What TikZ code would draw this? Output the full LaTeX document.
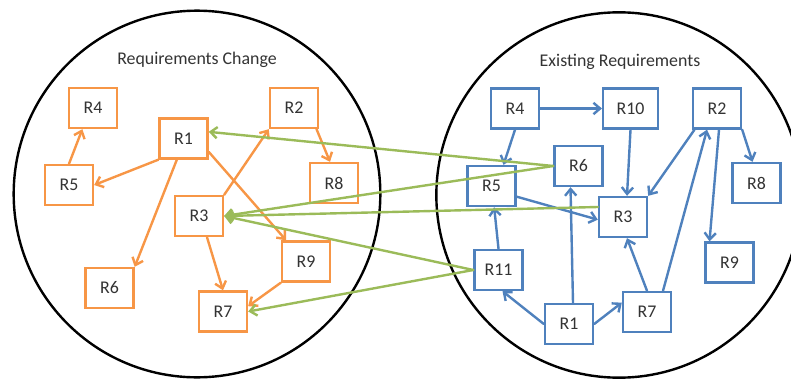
\documentclass[tikz,border=0pt]{standalone}
\usepackage{fontspec}
\setmainfont{Carlito}
\usetikzlibrary{arrows.meta}
\definecolor{org}{HTML}{F79646}
\definecolor{blu}{HTML}{4F81BD}
\definecolor{grn}{HTML}{9BBB59}
\definecolor{txt}{HTML}{333333}
\begin{document}
\begin{tikzpicture}[x=0.75pt,y=-0.75pt,
  every node/.style={font=\fontsize{13.4}{15}\selectfont, text=txt},
  obox/.style={draw=org, line width=1.8pt, fill=white, minimum width=36pt, minimum height=30pt, inner sep=0pt},
  bbox/.style={draw=blu, line width=1.8pt, fill=white, minimum width=36pt, minimum height=30pt, inner sep=0pt},
  arr/.style={line width=1.8pt, line cap=round, -{Straight Barb[length=5pt,width=8.5pt]}},
  oarr/.style={arr, draw=org},
  barr/.style={arr, draw=blu},
  garr/.style={arr, draw=grn},
  ring/.style={draw=black, line width=1.8pt}]
\useasboundingbox (0,0) rectangle (791,378);
\begin{scope}
\clip (0,0) rectangle (791,378);
\draw[ring] (197,194) circle[radius=137.5pt];
\draw[ring] (619,195) circle[radius=137pt];
\end{scope}
\node (ltitle) at (197,60) {Requirements Change};
\node (rtitle) at (620,62) {Existing Requirements};
% left nodes
\node[obox] (lR4) at (93,108) {R4};
\node[obox] (lR1) at (183.5,138.5) {R1};
\node[obox] (lR2) at (294,108) {R2};
\node[obox] (lR5) at (69,185) {R5};
\node[obox] (lR8) at (334,183) {R8};
\node[obox] (lR3) at (199,216) {R3};
\node[obox] (lR9) at (306,261.5) {R9};
\node[obox] (lR6) at (109.5,288) {R6};
\node[obox] (lR7) at (223,311.5) {R7};
% right nodes
\node[bbox] (rR4) at (515,108.5) {R4};
\node[bbox, minimum width=41pt] (rR10) at (630.5,108.5) {R10};
\node[bbox] (rR2) at (717,108.5) {R2};
\node[bbox] (rR6) at (578.5,166) {R6};
\node[bbox] (rR5) at (491.5,186) {R5};
\node[bbox] (rR8) at (756.5,183) {R8};
\node[bbox] (rR3) at (623,217) {R3};
\node[bbox] (rR9) at (729.5,262.5) {R9};
\node[bbox] (rR11) at (498.5,270) {R11};
\node[bbox] (rR7) at (647,312) {R7};
\node[bbox] (rR1) at (569,324) {R1};
% orange edges
\draw[oarr] (lR5.north) -- ([xshift=-8pt]lR4.south);
\draw[oarr] (lR1.south west) -- (lR5.east);
\draw[oarr] ([xshift=-5pt]lR1.south) -- (lR6.north east);
\draw[oarr] ([yshift=-10pt]lR1.east) -- ([xshift=4pt]lR9.north west);
\draw[oarr] (lR3.north east) -- (lR2.south west);
\draw[oarr] ([xshift=-2pt]lR2.south east) -- ([xshift=-3pt]lR8.north);
\draw[oarr] ([xshift=6pt]lR3.south) -- (lR7.north);
\draw[oarr] (lR9.south west) -- ([yshift=4pt]lR7.east);
% blue edges
\draw[barr] (rR4.east) -- (rR10.west);
\draw[barr] (rR4.south) -- ([xshift=9pt]rR5.north);
\draw[barr] (rR10.south) -- ([xshift=3pt]rR3.north);
\draw[barr] ([xshift=2pt]rR2.south west) -- (rR3.north east);
\draw[barr] (rR2.south east) -- ([xshift=-3pt]rR8.north);
\draw[barr] ([xshift=1.5pt]rR2.south) -- ([xshift=-15pt]rR9.north);
\draw[barr] ([yshift=-8pt]rR5.east) -- ([yshift=-2pt]rR3.west);
\draw[barr] (rR11.north) -- ([xshift=2pt]rR5.south);
\draw[barr] (rR1.west) -- ([xshift=3pt]rR11.south);
\draw[barr] ([xshift=3pt]rR1.north) -- ([xshift=-6pt]rR6.south);
\draw[barr] (rR1.east) -- ([yshift=7pt]rR7.west);
\draw[barr] (rR7.north) -- ([xshift=3pt]rR3.south);
\draw[barr] ([xshift=12pt]rR7.north) -- ([xshift=-7.5pt]rR2.south);
% green edges
\draw[garr] (rR6.west) -- ([yshift=5pt]lR1.east);
\draw[garr] (rR6.west) -- (lR3.east);
\draw[garr] ([yshift=7.5pt]rR3.west) -- (lR3.east);
\draw[garr] (rR11.west) -- (lR3.east);
\draw[garr] (rR11.west) -- (lR7.east);
\end{tikzpicture}
\end{document}
